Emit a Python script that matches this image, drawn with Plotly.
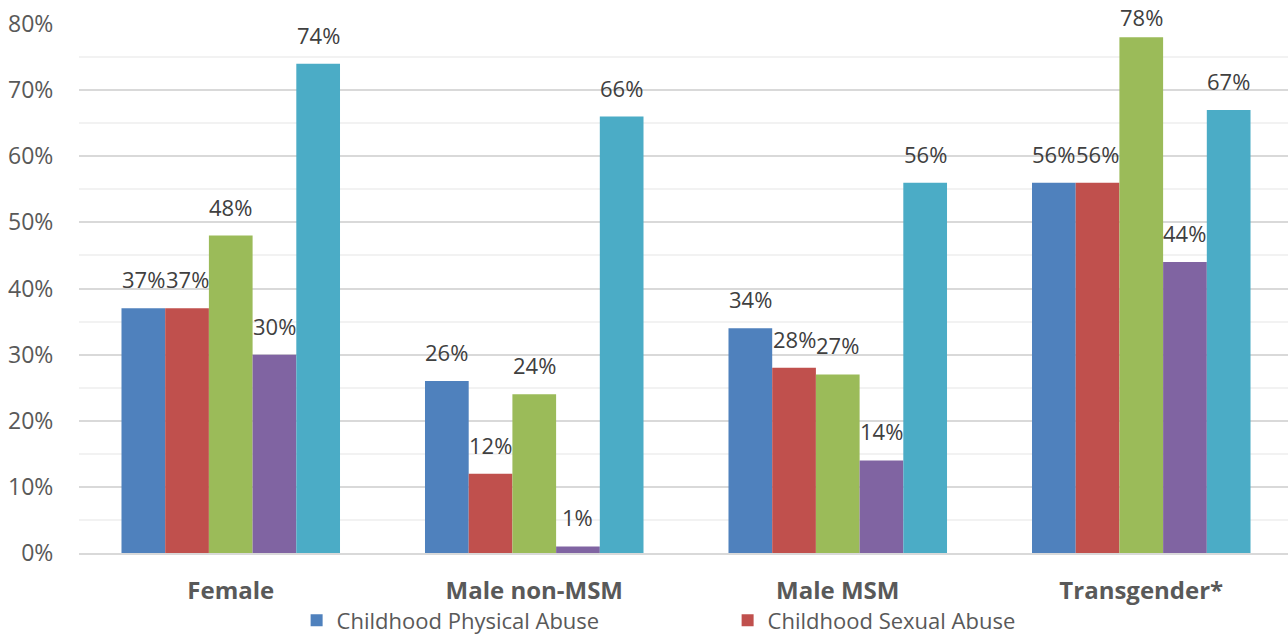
import plotly.graph_objects as go

categories = ["Female", "Male non-MSM", "Male MSM", "Transgender*"]
series_names = ["Childhood Physical Abuse", "Childhood Sexual Abuse", "Series 3", "Series 4", "Series 5"]
physical = [37, 26, 34, 56]
sexual = [37, 12, 28, 56]
series3 = [48, 24, 27, 78]
series4 = [30, 1, 14, 44]
series5 = [74, 66, 56, 67]
y_ticks = [0, 10, 20, 30, 40, 50, 60, 70, 80]

all_series = [physical, sexual, series3, series4, series5]
colors = ["#4F81BD", "#C0504D", "#9BBB59", "#8064A2", "#4BACC6"]

FONT = "Open Sans"
W, H = 1288, 637
ML, MR, MT, MB = 79, 0, 24, 84
YMAX = 80
plot_h = H - MT - MB

fig = go.Figure()
bargap = 0.28
n = len(all_series)
bw = (1 - bargap) / n
annotations = []
for j, (name, vals, col) in enumerate(zip(series_names, all_series, colors)):
    fig.add_trace(go.Bar(
        x=categories, y=vals, name=name,
        marker=dict(color=col, line=dict(width=0)),
        showlegend=(j < 2),
    ))
    for i, v in enumerate(vals):
        # keep label inside the canvas (like Excel pushes it down near the top)
        top_px = MT + (YMAX - v) / YMAX * plot_h
        shift = min(12, top_px - 34)
        annotations.append(dict(
            x=i + (j - (n - 1) / 2) * bw, y=v, xref="x", yref="y",
            text=f"{v}%", showarrow=False, yanchor="bottom", yshift=shift,
            font=dict(family=FONT, size=22, color="#404040"),
        ))

fig.update_layout(
    width=W, height=H,
    margin=dict(l=ML, r=MR, t=MT, b=MB, autoexpand=False),
    paper_bgcolor="white", plot_bgcolor="white",
    barmode="group", bargap=bargap, bargroupgap=0,
    annotations=annotations,
    legend=dict(orientation="h", x=0.18, xanchor="left", xref="paper",
                y=0.059, yanchor="top", yref="container",
                bgcolor="rgba(0,0,0,0)",
                font=dict(family=FONT, size=22, color="#595959"),
                entrywidth=386, traceorder="normal"),
    font=dict(family=FONT, color="#595959"),
)
fig.update_xaxes(
    range=[-0.5, 3.4835], showgrid=False, showline=True, linecolor="#D9D9D9", linewidth=2,
    tickfont=dict(family=FONT, size=24, color="#595959", weight="bold"),
    ticks="outside", ticklen=15, tickcolor="rgba(0,0,0,0)", automargin=False,
)
fig.update_yaxes(
    range=[0, YMAX], tickvals=y_ticks, ticktext=[f"{t}%" for t in y_ticks],
    showgrid=True, gridcolor="#D9D9D9", gridwidth=1.5,
    minor=dict(dtick=5, showgrid=True, gridcolor="#F2F2F2", gridwidth=1.5),
    zeroline=False, showline=False,
    tickfont=dict(family=FONT, size=23, color="#595959"),
    ticks="outside", ticklen=20, tickcolor="rgba(0,0,0,0)", automargin=False,
)

fig.write_html("out.html")
